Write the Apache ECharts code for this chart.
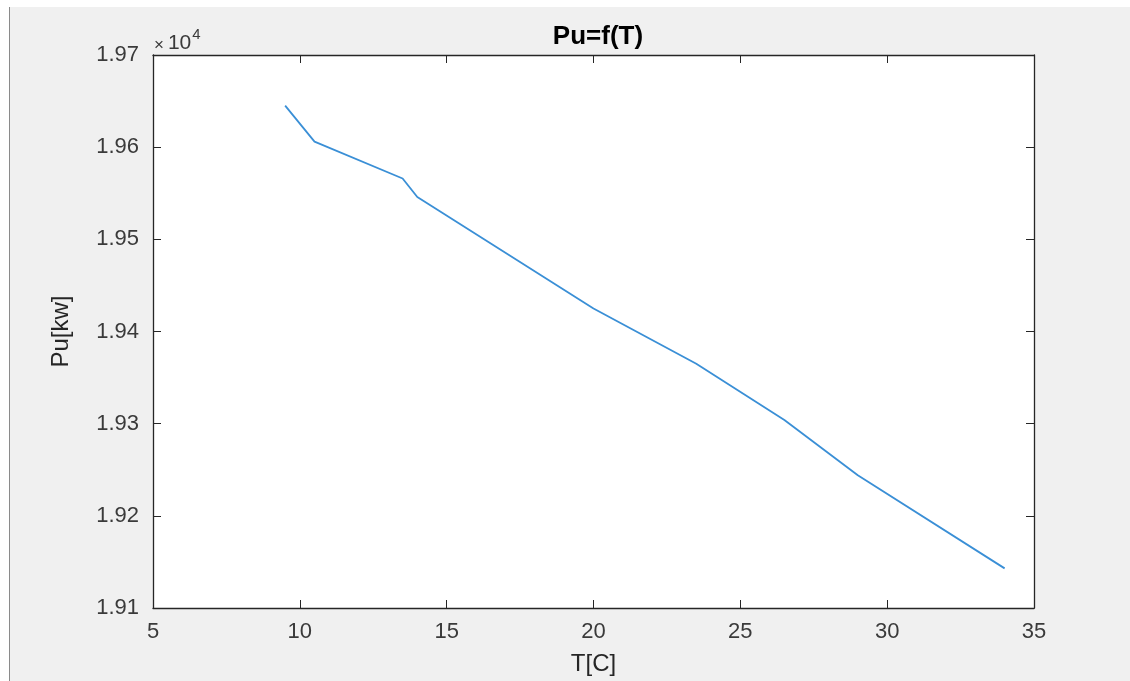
<!DOCTYPE html>
<html>
<head>
<meta charset="utf-8">
<script src="https://cdn.jsdelivr.net/npm/echarts@6/dist/echarts.min.js"></script>
<style>
html,body{margin:0;padding:0;background:#fff;}
#chart{width:1130px;height:681px;}
</style>
</head>
<body>
<div id="chart"></div>
<script>
// Data
const temperatures = [9.5, 10.5, 13.5, 14, 20, 23.5, 26.5, 29, 34];
const power = [19645, 19606, 19566, 19546, 19425, 19365, 19304, 19244, 19143];
const xTicks = [5, 10, 15, 20, 25, 30, 35];
const yTicks = [19100, 19200, 19300, 19400, 19500, 19600, 19700];

const seriesData = temperatures.map((t, i) => [t, power[i]]);
const axisColor = '#262626';
const labelColor = '#3a3a3a';
const font = '"Liberation Sans", Arial, Helvetica, sans-serif';

const chart = echarts.init(document.getElementById('chart'));
const baseX = {
  type: 'value', min: xTicks[0], max: xTicks[xTicks.length - 1], interval: 5,
  axisLine: {show: true, onZero: false, lineStyle: {color: axisColor, width: 1.3}},
  axisTick: {show: true, inside: true, length: 8, lineStyle: {color: axisColor}},
  splitLine: {show: false}
};
const baseY = {
  type: 'value', min: yTicks[0], max: yTicks[yTicks.length - 1], interval: 100,
  axisLine: {show: true, onZero: false, lineStyle: {color: axisColor, width: 1.3}},
  axisTick: {show: true, inside: true, length: 8, lineStyle: {color: axisColor}},
  splitLine: {show: false}
};
chart.setOption({
  backgroundColor: '#f0f0f0',
  animation: false,
  title: {
    text: 'Pu=f(T)', left: 593, top: 19, textAlign: 'center',
    textStyle: {fontFamily: font, fontWeight: 'bold', fontSize: 26, color: '#000'}
  },
  grid: {left: 153, top: 55, width: 881, height: 555, show: true, backgroundColor: '#fff', borderWidth: 0},
  xAxis: [
    Object.assign({}, baseX, {
      position: 'bottom',
      name: 'T[C]', nameLocation: 'middle', nameGap: 44,
      nameTextStyle: {fontFamily: font, fontSize: 24, color: axisColor},
      axisLabel: {show: true, margin: 13, fontFamily: font, fontSize: 22, color: labelColor}
    }),
    Object.assign({}, baseX, {position: 'top', axisLabel: {show: false}})
  ],
  yAxis: [
    Object.assign({}, baseY, {
      position: 'left',
      name: 'Pu[kw]', nameLocation: 'middle', nameGap: 80, nameRotate: 90,
      nameTextStyle: {fontFamily: font, fontSize: 24, color: axisColor},
      axisLabel: {show: true, margin: 14, fontFamily: font, fontSize: 22, color: labelColor,
        formatter: v => (v / 1e4).toFixed(2)}
    }),
    Object.assign({}, baseY, {position: 'right', axisLabel: {show: false}})
  ],
  series: [{
    type: 'line', data: seriesData, showSymbol: false, symbol: 'none',
    lineStyle: {color: '#3a8fd6', width: 1.8}, xAxisIndex: 0, yAxisIndex: 0
  }],
  graphic: [
    {type: 'rect', shape: {x: 0, y: 0, width: 1130, height: 7}, style: {fill: '#fff'}, z: 100},
    {type: 'rect', shape: {x: 0, y: 0, width: 9, height: 681}, style: {fill: '#fff'}, z: 100},
    {type: 'line', shape: {x1: 9.5, y1: 7, x2: 9.5, y2: 681}, style: {stroke: '#8a8a8a', lineWidth: 1}, z: 100},
    {type: 'text', left: 154, top: 27, z: 100,
      style: {
        text: '{a|×}{b|10}{c|4}',
        rich: {
          a: {fontFamily: font, fontSize: 17, fill: labelColor, verticalAlign: 'bottom', padding: [0, 4, 0, 0]},
          b: {fontFamily: font, fontSize: 21, fill: labelColor, verticalAlign: 'bottom'},
          c: {fontFamily: font, fontSize: 15, fill: labelColor, verticalAlign: 'top', padding: [0, 0, 12, 1]}
        }
      }}
  ]
});
</script>
</body>
</html>
